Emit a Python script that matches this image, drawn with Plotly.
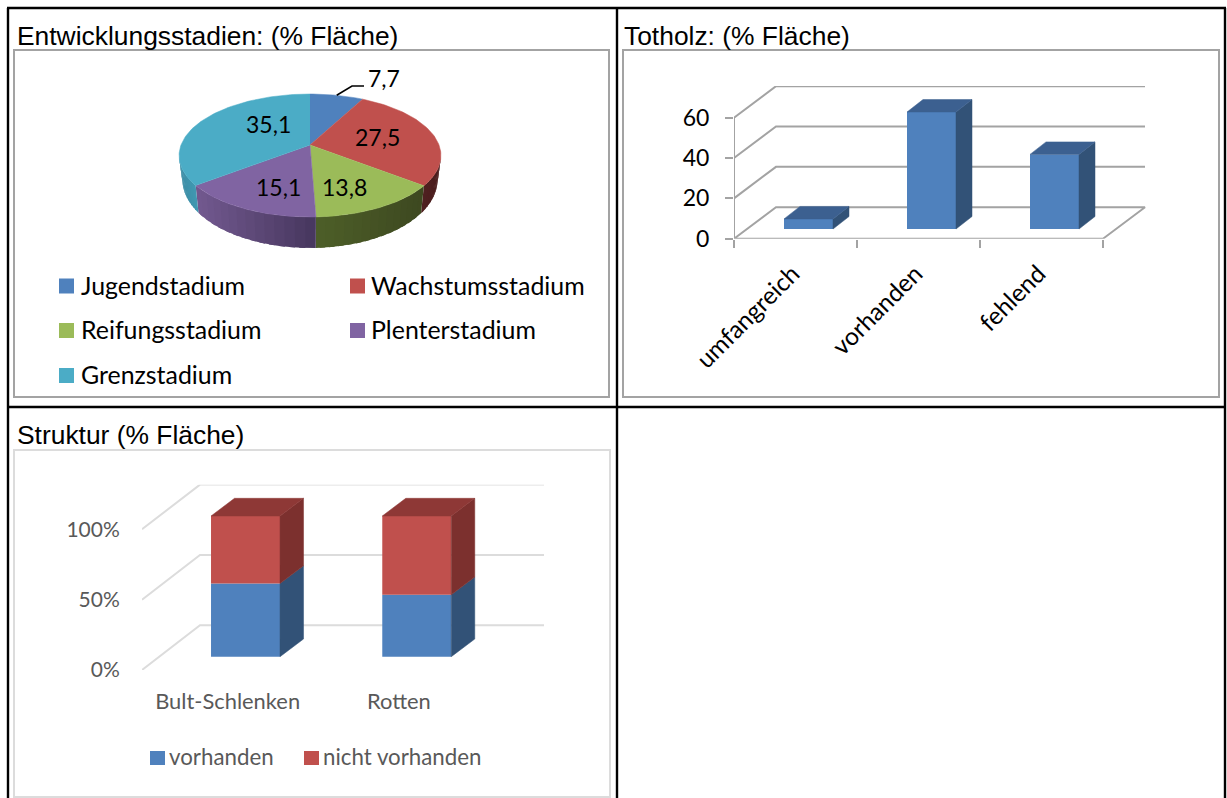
import math
import plotly.graph_objects as go

# ---- data ----
stage_names = ["Jugendstadium", "Wachstumsstadium", "Reifungsstadium", "Plenterstadium", "Grenzstadium"]
stage_values = [7.7, 27.5, 13.8, 15.1, 35.1]

deadwood_names = ["umfangreich", "vorhanden", "fehlend"]
deadwood_values = [5, 58, 37]

structure_names = ["Bult-Schlenken", "Rotten"]
structure_present = [52, 44]
structure_absent = [48, 56]
structure_series = ["vorhanden", "nicht vorhanden"]

# ---- page geometry ----
W, H = 1227, 798
LABEL_FONT = "Lato, Carlito, Calibri, sans-serif"
TITLE_FONT = "Liberation Sans, Arial, sans-serif"

BLUE, RED, GREEN, PURPLE, TEAL = "#4F81BD", "#C0504D", "#9BBB59", "#8064A2", "#4BACC6"
STAGE_COLORS = [BLUE, RED, GREEN, PURPLE, TEAL]
# side wall shading of each pie slice: colour at its left end, colour at its right end
SIDE_SHADES = [
    ("#3a6090", "#3a6090"),
    ("#4f2020", "#4a1d1d"),
    ("#4d5e28", "#3d4820"),
    ("#72598f", "#45355c"),
    ("#3d8da5", "#4099b2"),
]


def px(x):
    return x / W


def py(y):
    return 1 - y / H


def hex_mix(a, b, t):
    ca = [int(a[i:i + 2], 16) for i in (1, 3, 5)]
    cb = [int(b[i:i + 2], 16) for i in (1, 3, 5)]
    return "#%02x%02x%02x" % tuple(round(p + (q - p) * t) for p, q in zip(ca, cb))


fig = go.Figure()
shapes, annotations = [], []


def line(x0, y0, x1, y1, color="#000000", width=2.4):
    shapes.append(dict(type="line", xref="paper", yref="paper",
                       x0=px(x0), y0=py(y0), x1=px(x1), y1=py(y1),
                       line=dict(color=color, width=width)))


def rect(x0, y0, x1, y1, fill=None, color=None, width=0):
    shapes.append(dict(type="rect", xref="paper", yref="paper",
                       x0=px(x0), y0=py(y0), x1=px(x1), y1=py(y1),
                       fillcolor=fill or "rgba(0,0,0,0)",
                       line=dict(color=color or "rgba(0,0,0,0)", width=width)))


def text(x, y, s, size, font=LABEL_FONT, color="#000000", anchor="left"):
    annotations.append(dict(xref="paper", yref="paper", x=px(x), y=py(y), text=s,
                            showarrow=False, xanchor=anchor, yanchor="middle",
                            font=dict(family=font, size=size, color=color),
                            borderpad=0))


# ---- table rules and chart frames ----
for x in (8, 617, 1225):
    line(x, 8, x, H)
line(7, 8, 1226, 8)
line(7, 407, 1226, 407)

rect(14, 50, 609, 397, color="#a3a3a3", width=2)
rect(623, 50, 1219, 397, color="#a3a3a3", width=2)
rect(14, 450, 610, 797, color="#dcdcdc", width=2)

text(15.5, 35.5, "Entwicklungsstadien: (% Fläche)", 26.4, TITLE_FONT)
text(622.5, 35.5, "Totholz: (% Fläche)", 26.4, TITLE_FONT)
text(15.5, 434.5, "Struktur (% Fläche)", 26.4, TITLE_FONT)

# ---- pie chart: a tilted disc seen in perspective ----
CX, CY = 310, 145
TILT = 0.1707
RX = 129.0
RY = -34.95
DEPTH_MID, DEPTH_SWING = 22.0, 9.0
SIDE_SHRINK = 0.975
TOTAL = sum(stage_values)


def disc(theta):
    u, v = math.sin(theta), math.cos(theta)
    d = 1 + TILT * v
    return RX * u / d, -((CY + RY * v) / d - CY)


def rim(theta):
    x, y = disc(theta)
    depth = DEPTH_MID - DEPTH_SWING * math.cos(theta)
    return x * SIDE_SHRINK, y - depth


pie_layout = dict(
    xaxis=dict(domain=[px(14), px(609)], range=[14 - CX, 609 - CX], visible=False,
               fixedrange=True, automargin=False),
    yaxis=dict(domain=[py(397), py(50)], range=[CY - 397, CY - 50], visible=False,
               fixedrange=True, automargin=False),
)

edges = [0.0]
for v in stage_values:
    edges.append(edges[-1] + v / TOTAL * 2 * math.pi)

VISIBLE_FROM = math.pi - math.acos(TILT)
VISIBLE_TO = math.pi + math.acos(TILT)

# side wall in overlapping thin strips so the shading can vary along the rim
for i, colors in enumerate(SIDE_SHADES):
    a, b = max(edges[i], VISIBLE_FROM), min(edges[i + 1], VISIBLE_TO)
    if a >= b:
        continue
    steps = 14
    xa, xb = rim(b)[0], rim(a)[0]
    for k in range(steps):
        t0 = a + (b - a) * k / steps
        t1 = min(b, a + (b - a) * (k + 1.6) / steps)
        ring0 = [disc(t0 + (t1 - t0) * j / 3) for j in range(4)]
        ring1 = [rim(t1 - (t1 - t0) * j / 3) for j in range(4)]
        pts = ring0 + ring1
        mid = (rim(t0)[0] + rim(t1)[0]) / 2
        f = (mid - xa) / (xb - xa) if xb != xa else 0
        col = hex_mix(colors[0], colors[1], f)
        fig.add_trace(go.Scatter(x=[p[0] for p in pts], y=[p[1] for p in pts], mode="lines",
                                 fill="toself", fillcolor=col, line=dict(width=0),
                                 xaxis="x", yaxis="y", hoverinfo="skip", showlegend=False))

for i, name in enumerate(stage_names):
    a, b = edges[i], edges[i + 1]
    steps = max(8, int((b - a) * 40))
    pts = [(0.0, 0.0)]
    pts += [disc(a + (b - a) * k / steps) for k in range(steps + 1)]
    fig.add_trace(go.Scatter(x=[p[0] for p in pts], y=[p[1] for p in pts], mode="lines",
                             fill="toself", fillcolor=STAGE_COLORS[i],
                             line=dict(color=STAGE_COLORS[i], width=0.5),
                             xaxis="x", yaxis="y", name=name, showlegend=False))

# leader line from the smallest slice out to its label
lead = disc((edges[0] + edges[1]) / 2)
fig.add_trace(go.Scatter(x=[lead[0], 352 - CX, 364 - CX], y=[lead[1], CY - 86, CY - 86],
                         mode="lines", line=dict(color="#000000", width=1.6),
                         xaxis="x", yaxis="y", hoverinfo="skip", showlegend=False))

SLICE_LABEL_XY = [(384, 78), (378, 137), (344, 187), (278, 187), (268, 124)]
for v, (lx, ly) in zip(stage_values, SLICE_LABEL_XY):
    text(lx, ly, f"{v:.1f}".replace(".", ","), 23, anchor="center")

STAGE_KEY_XY = [(59, 286), (350, 286), (59, 330.5), (350, 330.5), (59, 375.5)]
for name, col, (kx, ky) in zip(stage_names, STAGE_COLORS, STAGE_KEY_XY):
    rect(kx, ky - 7.5, kx + 15, ky + 7.5, fill=col)
    text(kx + 20.5, ky - 1.5, name, 24.9)

# ---- shared pieces of the two bar charts ----


def prism(fig, xa, ya, x0, x1, y0, y1, ddx, ddy, side, top=None):
    """Side face, and top face when given, of a bar with front face x0..x1, y0..y1."""
    fig.add_trace(go.Scatter(x=[x1, x1 + ddx, x1 + ddx, x1, x1], y=[y0, y0 + ddy, y1 + ddy, y1, y0],
                             mode="lines", fill="toself", fillcolor=side, line=dict(color=side, width=0.5),
                             xaxis=xa, yaxis=ya, hoverinfo="skip", showlegend=False, zorder=2))
    if top:
        fig.add_trace(go.Scatter(x=[x0, x1, x1 + ddx, x0 + ddx, x0], y=[y1, y1, y1 + ddy, y1 + ddy, y1],
                                 mode="lines", fill="toself", fillcolor=top, line=dict(color=top, width=0.5),
                                 xaxis=xa, yaxis=ya, hoverinfo="skip", showlegend=False, zorder=2))


# ---- deadwood chart ----
CAT2 = 123.0      # pixels per category
UNIT2 = 121.0 / 60  # pixels per percent
X0_2, Y0_2 = 734, 238.7
RIGHT2, TOP2 = 1146, 86
FLOOR_DX2, FLOOR_DY2 = 42 / CAT2, 31.5 / UNIT2
right_front2 = len(deadwood_names) - 0.5
GRID2 = "#a3a3a3"
for g in (20, 40, 60):
    fig.add_trace(go.Scatter(x=[-0.5, -0.5 + FLOOR_DX2, right_front2 + FLOOR_DX2],
                             y=[g, g + FLOOR_DY2, g + FLOOR_DY2], mode="lines",
                             line=dict(color=GRID2, width=2), xaxis="x2", yaxis="y2",
                             hoverinfo="skip", showlegend=False, zorder=0))
fig.add_trace(go.Scatter(x=[-0.5, right_front2, right_front2 + FLOOR_DX2, -0.5 + FLOOR_DX2, -0.5, -0.5],
                         y=[0, 0, FLOOR_DY2, FLOOR_DY2, 0, 60], mode="lines",
                         line=dict(color=GRID2, width=2), xaxis="x2", yaxis="y2",
                         hoverinfo="skip", showlegend=False, zorder=0))

BAR_W2 = 49 / CAT2
BAR_DX2, BAR_DY2 = 13 / CAT2, 9.7 / UNIT2
bar_x2 = [i + BAR_DX2 for i in range(len(deadwood_values))]
fig.add_trace(go.Bar(x=bar_x2, y=deadwood_values, base=[BAR_DY2] * len(deadwood_values),
                     width=BAR_W2, marker=dict(color=BLUE, line=dict(width=0)),
                     xaxis="x2", yaxis="y2", showlegend=False, zorder=1))
for cx, v in zip(bar_x2, deadwood_values):
    prism(fig, "x2", "y2", cx - BAR_W2 / 2, cx + BAR_W2 / 2, BAR_DY2, BAR_DY2 + v,
          16 / CAT2, 12.5 / UNIT2, "#325277", "#3c6090")

axes2 = dict(
    xaxis2=dict(domain=[px(X0_2), px(RIGHT2)], range=[-0.5, -0.5 + (RIGHT2 - X0_2) / CAT2],
                anchor="y2", tickmode="array", tickvals=list(range(len(deadwood_names))),
                ticktext=deadwood_names, tickangle=-45, ticks="outside", ticklen=8,
                tickcolor="rgba(0,0,0,0)", showgrid=False, zeroline=False, showline=False,
                automargin=False, ticklabelstandoff=2, ticklabelshift=-3,
                tickfont=dict(family=LABEL_FONT, size=24.5, color="#000000"), fixedrange=True,
                minor=dict(tickmode="array", tickvals=[-0.5, 0.5, 1.5, 2.5], ticks="outside",
                           ticklen=8, tickcolor=GRID2, tickwidth=2, showgrid=False)),
    yaxis2=dict(domain=[py(Y0_2), py(TOP2)], range=[0, (Y0_2 - TOP2) / UNIT2], anchor="x2",
                tickmode="array", tickvals=[0, 20, 40, 60], ticks="outside", ticklen=8,
                tickcolor=GRID2, tickwidth=2, showgrid=False, zeroline=False, showline=False,
                automargin=False, ticklabelstandoff=11,
                tickfont=dict(family=LABEL_FONT, size=23, color="#000000"), fixedrange=True),
)

# ---- structure chart ----
CAT3 = 171.25
UNIT3 = 140.7 / 100
X0_3, Y0_3 = 142, 670
RIGHT3, TOP3 = 544, 484.7
FLOOR_DX3, FLOOR_DY3 = 58 / CAT3, 44.7 / UNIT3
GRID3 = "#dcdcdc"
for g in (0, 50, 100):
    fig.add_trace(go.Scatter(x=[-0.5, -0.5 + FLOOR_DX3, (RIGHT3 - X0_3) / CAT3 - 0.5],
                             y=[g, g + FLOOR_DY3, g + FLOOR_DY3], mode="lines",
                             line=dict(color=GRID3, width=2), xaxis="x3", yaxis="y3",
                             hoverinfo="skip", showlegend=False, zorder=0))

BAR_W3 = 69 / CAT3
BAR_DX3, BAR_DY3 = 17.9 / CAT3, 13.3 / UNIT3
bar_x3 = [i + BAR_DX3 for i in range(len(structure_names))]
fig.add_trace(go.Bar(x=bar_x3, y=structure_present, base=[BAR_DY3] * len(bar_x3), width=BAR_W3,
                     marker=dict(color=BLUE, line=dict(width=0)), name=structure_series[0],
                     xaxis="x3", yaxis="y3", showlegend=False, zorder=1))
fig.add_trace(go.Bar(x=bar_x3, y=structure_absent, base=[BAR_DY3 + p for p in structure_present],
                     width=BAR_W3, marker=dict(color=RED, line=dict(width=0)),
                     name=structure_series[1], xaxis="x3", yaxis="y3", showlegend=False, zorder=1))
for cx, p, q in zip(bar_x3, structure_present, structure_absent):
    x0, x1 = cx - BAR_W3 / 2, cx + BAR_W3 / 2
    prism(fig, "x3", "y3", x0, x1, BAR_DY3, BAR_DY3 + p, 23.5 / CAT3, 17.7 / UNIT3, "#325277")
    prism(fig, "x3", "y3", x0, x1, BAR_DY3 + p, BAR_DY3 + p + q, 23.5 / CAT3, 17.7 / UNIT3, "#7c302e", "#8e3836")

axes3 = dict(
    xaxis3=dict(domain=[px(X0_3), px(RIGHT3)], range=[-0.5, -0.5 + (RIGHT3 - X0_3) / CAT3],
                anchor="y3", tickmode="array", tickvals=list(range(len(structure_names))),
                ticktext=structure_names, tickangle=0, ticks="outside", ticklen=12,
                tickcolor="rgba(0,0,0,0)", showgrid=False, zeroline=False, showline=False,
                automargin=False,
                tickfont=dict(family=LABEL_FONT, size=21.9, color="#595959"), fixedrange=True),
    yaxis3=dict(domain=[py(Y0_3), py(TOP3)], range=[0, (Y0_3 - TOP3) / UNIT3], anchor="x3",
                tickmode="array", tickvals=[0, 50, 100], ticktext=["0%", "50%", "100%"],
                ticks="outside", ticklen=17, tickcolor="rgba(0,0,0,0)", showgrid=False,
                zeroline=False, showline=False, automargin=False,
                tickfont=dict(family=LABEL_FONT, size=21, color="#595959"), fixedrange=True),
)

STRUCTURE_KEY_X = [150, 304]
for name, col, kx in zip(structure_series, (BLUE, RED), STRUCTURE_KEY_X):
    rect(kx, 751, kx + 15, 765, fill=col)
    text(kx + 18, 756, name, 22.3, color="#595959")

fig.update_layout(
    width=W, height=H, autosize=False, margin=dict(l=0, r=0, t=0, b=0),
    paper_bgcolor="#ffffff", plot_bgcolor="rgba(0,0,0,0)",
    barmode="overlay", showlegend=False, shapes=shapes, annotations=annotations,
    **pie_layout, **axes2, **axes3,
)

fig.write_html("out.html", config=dict(displayModeBar=False))
